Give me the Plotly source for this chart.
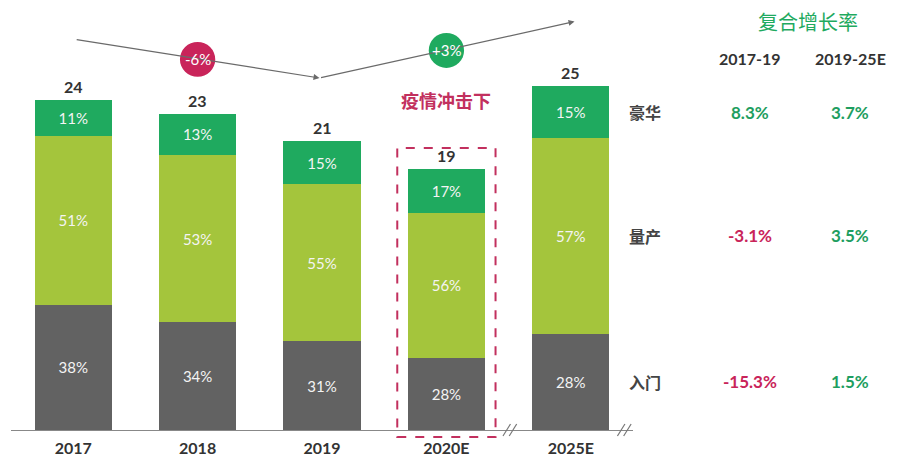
import plotly.graph_objects as go

years = ["2017", "2018", "2019", "2020E", "2025E"]
totals = [24, 23, 21, 19, 25]
entry_pct = [38, 34, 31, 28, 28]
mass_pct = [51, 53, 55, 56, 57]
lux_pct = [11, 13, 15, 17, 15]

seg_names = ["入门", "量产", "豪华"]
cagr_headers = ["2017-19", "2019-25E"]
cagr_1719 = ["-15.3%", "-3.1%", "8.3%"]
cagr_1925 = ["1.5%", "3.5%", "3.7%"]
change_labels = ["-6%", "+3%"]

C_GRAY = "#626262"
C_LIME = "#a4c53c"
C_GREEN = "#1faa5f"
C_RED = "#c9245a"
C_DARK = "#333333"
FONT_NUM = "Lato, 'Noto Sans CJK SC', sans-serif"
FONT_CJK = "'Noto Sans CJK SC', sans-serif"

xs = list(range(len(years)))
sums = [a + b + c for a, b, c in zip(entry_pct, mass_pct, lux_pct)]
entry_v = [t * p / s for t, p, s in zip(totals, entry_pct, sums)]
mass_v = [t * p / s for t, p, s in zip(totals, mass_pct, sums)]
lux_v = [t * p / s for t, p, s in zip(totals, lux_pct, sums)]

fig = go.Figure()
for vals, pcts, col, name in [(entry_v, entry_pct, C_GRAY, seg_names[0]),
                              (mass_v, mass_pct, C_LIME, seg_names[1]),
                              (lux_v, lux_pct, C_GREEN, seg_names[2])]:
    fig.add_trace(go.Bar(
        x=xs, y=vals, name=name, marker=dict(color=col, line=dict(width=0)),
        text=[f"{p}%" for p in pcts], textposition="inside",
        insidetextanchor="middle", textangle=0,
        textfont=dict(color="#f4f4f4", size=15, family=FONT_NUM),
        hoverinfo="skip"))

Y_MAX = 31.27
ann = []
# totals
for x, t in zip(xs, totals):
    ann.append(dict(x=x, y=t, xref="x", yref="y", text=f"<b>{t}</b>",
                    showarrow=False, yanchor="bottom", xanchor="center", yshift=2,
                    font=dict(size=16, color=C_DARK, family=FONT_NUM)))

# trend arrows
ann.append(dict(x=1.98, y=25.6, ax=0.016, ay=28.4, xref="x", yref="y",
                axref="x", ayref="y", showarrow=True, arrowhead=2,
                arrowsize=1, arrowwidth=1.2, arrowcolor="#6a6a6a", text="",
                standoff=0, startstandoff=0))
ann.append(dict(x=4.03, y=29.7, ax=1.98, ay=25.6, xref="x", yref="y",
                axref="x", ayref="y", showarrow=True, arrowhead=2,
                arrowsize=1, arrowwidth=1.2, arrowcolor="#6a6a6a", text="",
                standoff=0, startstandoff=0))

shapes = []
circ = [(1, 26.95, C_RED, change_labels[0]), (3, 27.6, C_GREEN, change_labels[1])]
for cx, cy, col, lab in circ:
    shapes.append(dict(type="circle", xref="x", yref="y",
                       x0=cx - 0.142, x1=cx + 0.142, y0=cy - 1.27, y1=cy + 1.27,
                       fillcolor=col, line=dict(width=0), layer="above"))
    ann.append(dict(x=cx, y=cy, xref="x", yref="y", text=lab, showarrow=False,
                    xanchor="center", yanchor="middle",
                    font=dict(size=15, color="white", family=FONT_NUM)))

# dashed box around 2020E
shapes.append(dict(type="rect", xref="paper", yref="paper",
                   x0=(3 - 0.395 + 0.5) / 5, x1=(3 + 0.395 + 0.5) / 5,
                   y0=-0.016, y1=0.656,
                   line=dict(color="#c2305e", width=2, dash="dash"),
                   fillcolor="rgba(0,0,0,0)", layer="above"))
ann.append(dict(x=3, y=24.0, xref="x", yref="y", text="<b>疫情冲击下</b>",
                showarrow=False, xanchor="center", yanchor="middle",
                font=dict(size=18, color="#c2305e", family=FONT_CJK)))

# axis break marks
for bx in [3.51, 4.43]:
    for off in [-0.025, 0.025]:
        px = (bx + off + 0.5) / 5
        shapes.append(dict(type="line", xref="paper", yref="paper",
                           x0=px - 0.006, x1=px + 0.006, y0=-0.014, y1=0.014,
                           line=dict(color="#777777", width=1.2)))

# right side CAGR table
def px_x(p):
    return (p - 11) / 622

ann.append(dict(x=px_x(808), y=(430 - 22) / 430, xref="paper", yref="paper",
                text="复合增长率", showarrow=False, xanchor="center", yanchor="middle",
                font=dict(size=20, color=C_GREEN, family=FONT_CJK)))
for hx, h in zip([750, 850], cagr_headers):
    ann.append(dict(x=px_x(hx), y=(430 - 58) / 430, xref="paper", yref="paper",
                    text=f"<b>{h}</b>", showarrow=False,
                    xanchor="center", yanchor="middle",
                    font=dict(size=16, color=C_DARK, family=FONT_NUM)))

i = 4
row_y = [entry_v[i] / 2, entry_v[i] + mass_v[i] / 2,
         entry_v[i] + mass_v[i] + lux_v[i] / 2]
for ry, name, v1, v2 in zip(row_y, seg_names, cagr_1719, cagr_1925):
    ann.append(dict(x=px_x(627), y=ry, xref="paper", yref="y", xanchor="left",
                    yanchor="middle",
                    text=f"<b>{name}</b>", showarrow=False,
                    font=dict(size=16, color="#444444", family=FONT_CJK)))
    for cx, v in zip([750, 850], [v1, v2]):
        col = C_RED if v.startswith("-") else "#1e9e60"
        ann.append(dict(x=px_x(cx), y=ry, xref="paper", yref="y",
                        xanchor="center", yanchor="middle",
                        text=f"<b>{v}</b>", showarrow=False,
                        font=dict(size=17, color=col, family=FONT_NUM)))

fig.update_layout(
    width=897, height=463,
    margin=dict(l=11, r=264, t=0, b=33),
    barmode="stack", bargap=0.38,
    plot_bgcolor="white", paper_bgcolor="white",
    showlegend=False,
    annotations=ann, shapes=shapes,
    xaxis=dict(range=[-0.5, 4.5], tickvals=xs,
               ticktext=[f"<b>{y}</b>" for y in years],
               tickfont=dict(size=16, color=C_DARK, family=FONT_NUM),
               ticklabelstandoff=4,
               showline=True, linecolor="#888888", linewidth=1.2,
               showgrid=False, zeroline=False, ticks="", fixedrange=True),
    yaxis=dict(range=[0, Y_MAX], visible=False, showgrid=False,
               zeroline=False, fixedrange=True),
    uniformtext=dict(minsize=10, mode="show"),
)

fig.write_html("out.html")
